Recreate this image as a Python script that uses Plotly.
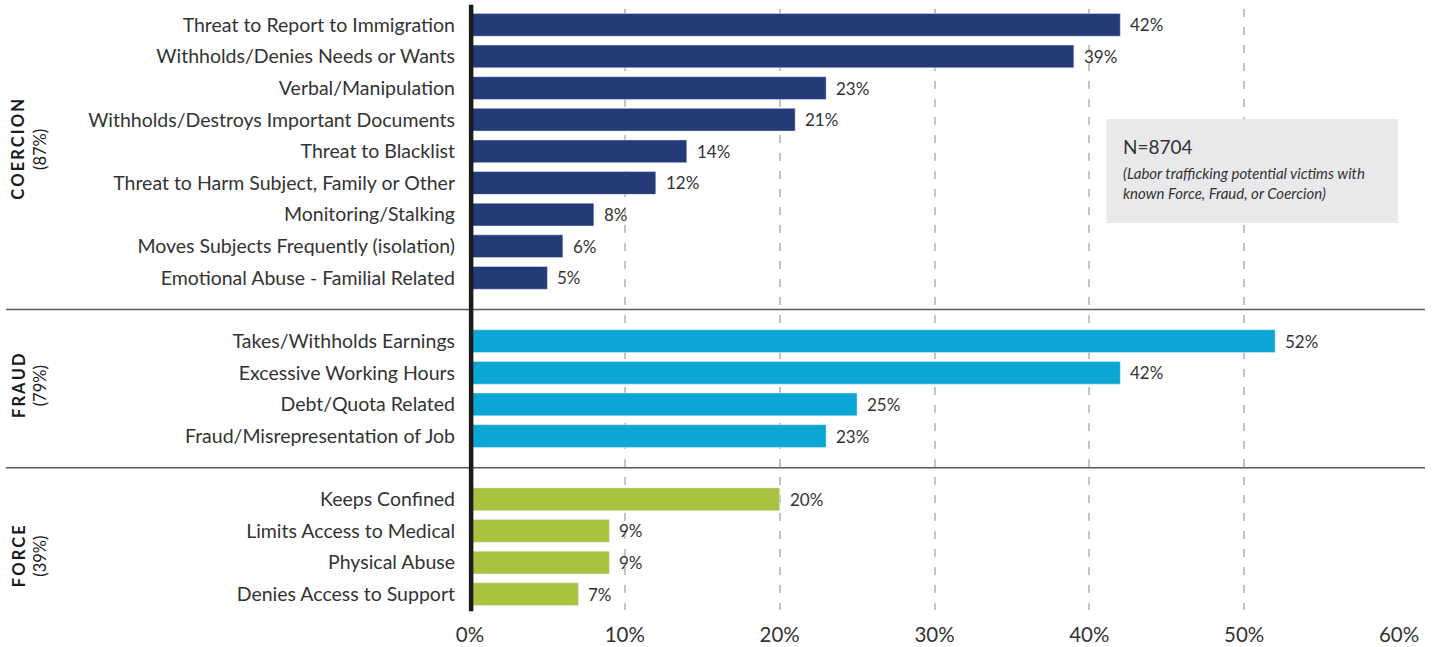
import plotly.graph_objects as go

# ---- data ----
coercion_labels = ["Threat to Report to Immigration", "Withholds/Denies Needs or Wants",
                   "Verbal/Manipulation", "Withholds/Destroys Important Documents",
                   "Threat to Blacklist", "Threat to Harm Subject, Family or Other",
                   "Monitoring/Stalking", "Moves Subjects Frequently (isolation)",
                   "Emotional Abuse - Familial Related"]
coercion_values = [42, 39, 23, 21, 14, 12, 8, 6, 5]
fraud_labels = ["Takes/Withholds Earnings", "Excessive Working Hours",
                "Debt/Quota Related", "Fraud/Misrepresentation of Job"]
fraud_values = [52, 42, 25, 23]
force_labels = ["Keeps Confined", "Limits Access to Medical",
                "Physical Abuse", "Denies Access to Support"]
force_values = [20, 9, 9, 7]
group_names = ["COERCION", "FRAUD", "FORCE"]
group_shares = ["(87%)", "(79%)", "(39%)"]
x_ticks = [0, 10, 20, 30, 40, 50, 60]
x_tick_labels = ["0%", "10%", "20%", "30%", "40%", "50%", "60%"]

colors = ["#253a78", "#0ba6d3", "#a9c23f"]
FONT = "Lato"
TXT = "#333333"

groups = [(coercion_labels, coercion_values), (fraud_labels, fraud_values),
          (force_labels, force_values)]

fig = go.Figure()
tickvals, ticktext = [], []
pos = 0
sep_pos = []
for gi, (labels, vals) in enumerate(groups):
    ys = list(range(pos, pos + len(labels)))
    fig.add_trace(go.Bar(x=vals, y=ys, orientation="h", marker_color=colors[gi],
                         width=0.72, showlegend=False, hoverinfo="x+y"))
    tickvals += ys
    ticktext += labels
    for v, y in zip(vals, ys):
        fig.add_annotation(x=v, y=y, xref="x", yref="y", text=f"{v}%", showarrow=False,
                           xanchor="left", xshift=8, font=dict(family=FONT, size=17, color=TXT))
    pos += len(labels)
    if gi < len(groups) - 1:
        sep_pos.append(pos)
        pos += 1

# group labels
label_y = [3.92, 11.42, 16.8]
for name, share, yy in zip(group_names, group_shares, label_y):
    spaced = "\u2009".join(name)
    fig.add_annotation(x=-0.4748, xref="paper", y=yy, yref="y", textangle=-90,
                       text=f"<b>{spaced}</b><br>{share}", showarrow=False,
                       xanchor="center", yanchor="middle", align="center",
                       font=dict(family=FONT, size=16.5, color="#1a1a1a"))

# separators
for s in sep_pos:
    fig.add_shape(type="line", xref="paper", yref="y", x0=-0.4995, x1=1.028, y0=s, y1=s,
                  line=dict(color="#5a5a5a", width=1.5), layer="below")

# N box
fig.add_shape(type="rect", xref="x", yref="paper", x0=41.1, x1=59.95, y0=0.644, y1=0.817,
              fillcolor="#e9e9eb", line_width=0, layer="above")
fig.add_annotation(x=42.05, xref="x", y=0.772, yref="paper", text="N=8704", showarrow=False,
                   xanchor="left", yanchor="middle", font=dict(family=FONT, size=19, color=TXT))
fig.add_annotation(x=42.05, xref="x", y=0.711, yref="paper",
                   text="<i>(Labor trafficking potential victims with<br>known Force, Fraud, or Coercion)</i>",
                   showarrow=False, xanchor="left", yanchor="middle", align="left",
                   font=dict(family=FONT, size=15, color=TXT))

# zero line (paper-referenced so it is not clipped at the plot edge)
fig.add_shape(type="line", xref="paper", yref="paper", x0=0.0012, x1=0.0012, y0=-0.002, y1=1.007,
              line=dict(color="#1a1a1a", width=4.5), layer="above")

fig.update_layout(
    width=1437, height=647, margin=dict(l=470, r=38, t=9, b=37, autoexpand=False),
    plot_bgcolor="white", paper_bgcolor="white", bargap=0.28,
    xaxis=dict(range=[0, 60], tickvals=x_ticks, ticktext=x_tick_labels, showgrid=True,
               gridcolor="#c4c4c4", gridwidth=2, griddash="8px,10px", zeroline=False,
               showline=False, ticks="", ticklabelstandoff=10, automargin=False,
               tickfont=dict(family=FONT, size=20.5, color=TXT)),
    yaxis=dict(range=[pos - 0.5, -0.5], tickvals=tickvals, ticktext=ticktext,
               showgrid=False, zeroline=False, showline=False, ticks="", automargin=False,
               ticklabelstandoff=14, tickfont=dict(family=FONT, size=19.5, color=TXT)),
)
fig.write_html("out.html")
